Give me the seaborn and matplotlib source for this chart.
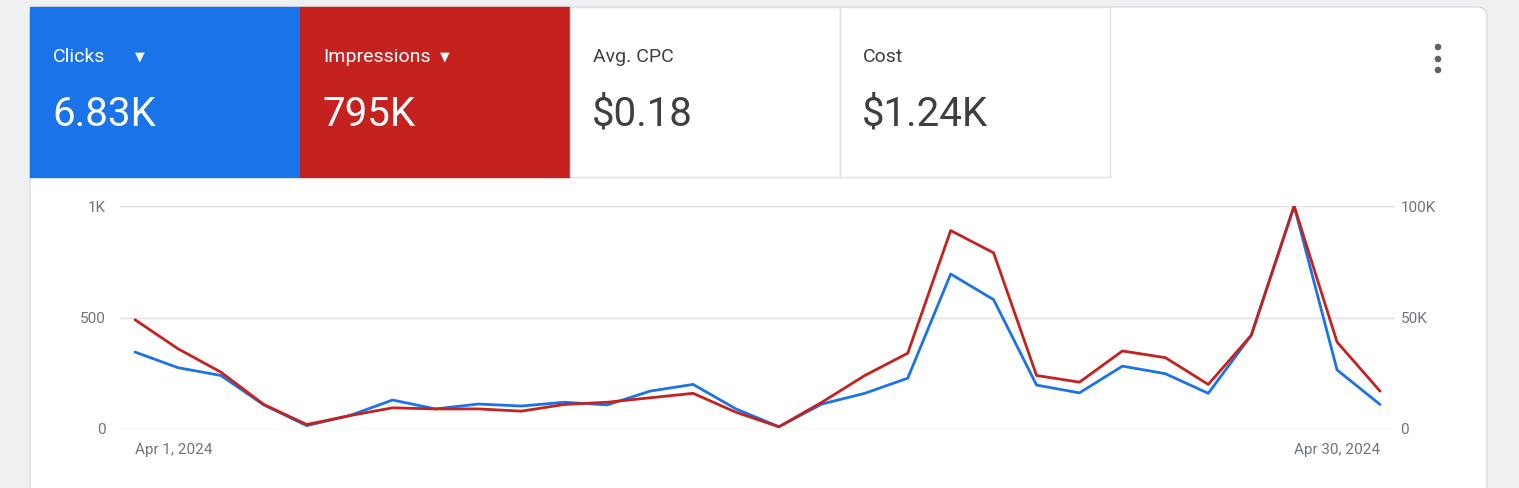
import numpy as np
import pandas as pd
import matplotlib.pyplot as plt
import seaborn as sns
from matplotlib.patches import FancyBboxPatch, Rectangle

days = list(range(1, 31))
clicks = [345, 275, 240, 108, 15, 60, 130, 90, 112, 103, 120, 108, 170, 200, 90,
          10, 112, 160, 228, 695, 580, 197, 162, 282, 248, 160, 420, 1000, 265, 110]
impressions_k = [49, 36, 25.5, 11, 2, 6, 9.5, 9, 9, 8, 11, 12, 14, 16, 7.5,
                 1, 12, 24, 34, 89, 79, 24, 21, 35, 32, 20, 42, 100, 39, 17]
tab_titles = ["Clicks", "Impressions", "Avg. CPC", "Cost"]
tab_values = ["6.83K", "795K", "$0.18", "$1.24K"]

df = pd.DataFrame({"day": days, "clicks": clicks, "impr": impressions_k})

sns.set_style("white")
plt.rcParams['font.family'] = ['Roboto', 'DejaVu Sans']

W, H = 1519, 488
fig = plt.figure(figsize=(W / 100, H / 100), dpi=100)
fig.patch.set_facecolor("#eef0f2")

# card + tabs in pixel coords
bg = fig.add_axes([0, 0, 1, 1])
bg.set_xlim(0, W)
bg.set_ylim(H, 0)
bg.axis("off")
bg.add_patch(FancyBboxPatch((30, 7), 1457, 500, boxstyle="round,pad=0,rounding_size=10",
                            facecolor="white", edgecolor="#dadce0", lw=1))
tab_colors = ["#1a73e8", "#c5221f", "white", "white"]
for i, (t, v, c) in enumerate(zip(tab_titles, tab_values, tab_colors)):
    x0 = 30 + i * 270
    bg.add_patch(Rectangle((x0, 7), 270, 170, facecolor=c,
                           edgecolor="#e0e0e0" if c == "white" else c, lw=1))
    fc = "white" if c != "white" else "#3c4043"
    label = t + ("  \u25be" if i < 2 else "")
    bg.text(x0 + 23, 57, t, color=fc, fontsize=14, va="center")
    if i < 2:
        tw = {0: 82, 1: 117}[i]
        bg.text(x0 + 23 + tw, 57, "\u25bc", color=fc, fontsize=9, va="center")
    bg.text(x0 + 22, 114, v, color=fc, fontsize=29, va="center")
for yy in (47, 59, 70):
    bg.add_patch(plt.Circle((1438, yy), 2.6, color="#5f6368"))

ax = fig.add_axes([120 / W, (H - 429) / H, 1275 / W, 223 / H])
ax2 = ax.twinx()
sns.lineplot(data=df, x="day", y="clicks", ax=ax, color="#1a73e8", lw=2)
sns.lineplot(data=df, x="day", y="impr", ax=ax2, color="#c5221f", lw=2)
pad = 15 / 42.93
ax.set_xlim(1 - pad, 30 + pad)
ax.set_ylim(0, 1000)
ax2.set_ylim(0, 100)
for a in (ax, ax2):
    a.patch.set_alpha(0)
    for s in a.spines.values():
        s.set_visible(False)
    a.set_xlabel("")
    a.set_ylabel("")
    a.tick_params(axis="y", length=0, labelsize=11, labelcolor="#70757a", pad=10)
ax.set_yticks([0, 500, 1000], ["0", "500", "1K"])
ax2.set_yticks([0, 50, 100], ["0", "50K", "100K"])
ax2.tick_params(axis="y", pad=4)
ax.yaxis.grid(True, color="#e0e0e0", lw=1)
ax.set_xticks([1, 30], ["Apr 1, 2024", "Apr 30, 2024"])
ax.tick_params(axis="x", length=6, color="#dadce0", labelsize=11, labelcolor="#70757a", pad=4)
lbls = ax.get_xticklabels()
lbls[0].set_ha("left")
lbls[1].set_ha("right")

fig.savefig("out.png", dpi=100, facecolor=fig.get_facecolor())
